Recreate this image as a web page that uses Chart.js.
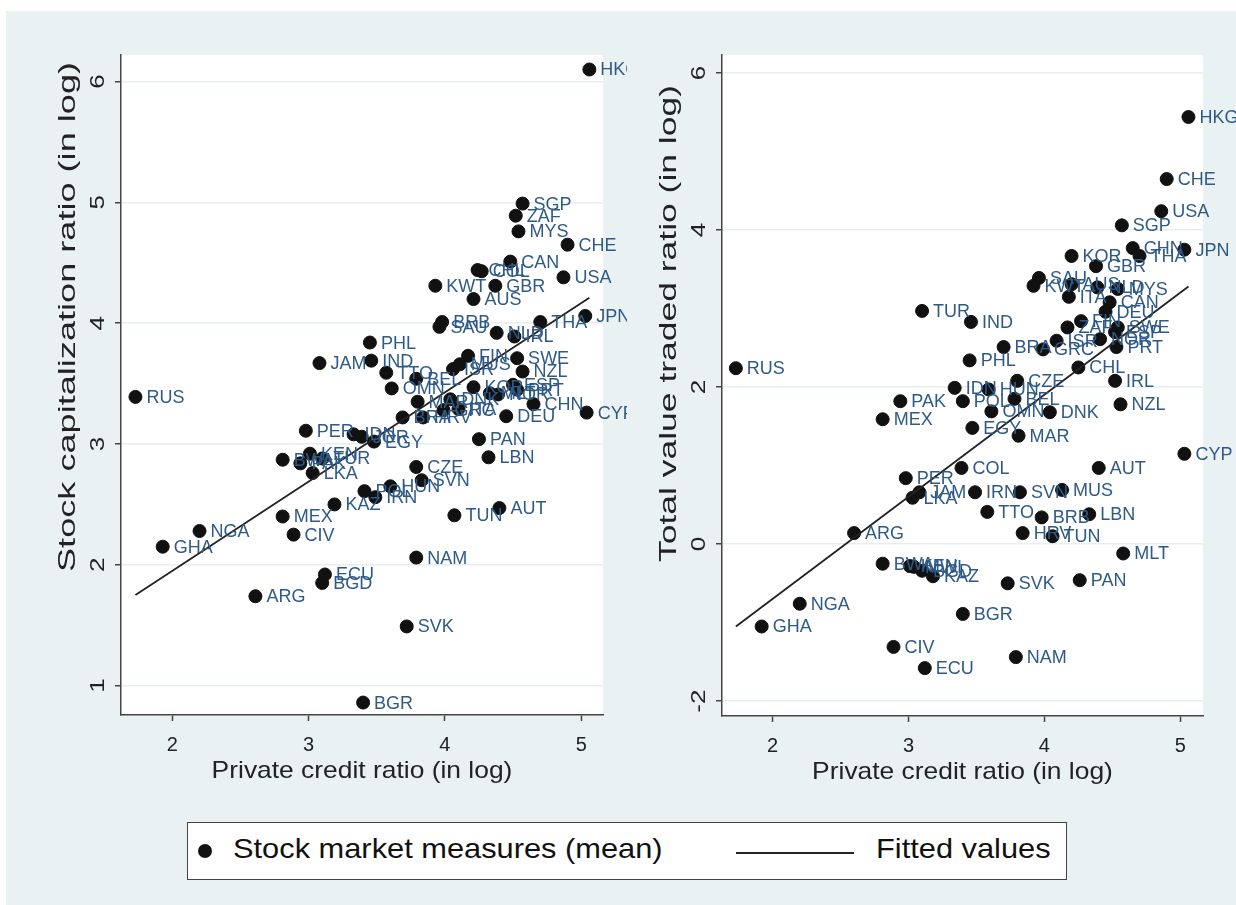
<!DOCTYPE html>
<html>
<head>
<meta charset="utf-8">
<script src="https://cdn.jsdelivr.net/npm/chart.js@4.4.0/dist/chart.umd.min.js"></script>
<style>
  body { margin: 0; width: 1236px; height: 905px; background: #fff; position: relative; overflow: hidden; font-family: "Liberation Sans", Arial, sans-serif; }
  #bg { position: absolute; left: 6px; top: 11px; right: 0; bottom: 0; background: #eaf1f3; }
  #left { position: absolute; left: 0; top: 0; }
  #right { position: absolute; left: 627px; top: 0; }
  #legend { position: absolute; left: 187px; top: 822px; width: 878px; height: 56px; border: 1px solid #444; background: #fff; }
  #legend .dot { position: absolute; left: 10px; top: 21px; width: 14px; height: 14px; border-radius: 50%; background: #111; }
  #legend .line { position: absolute; left: 548px; top: 29px; width: 118px; height: 2px; background: #222; }
  #legend span { position: absolute; top: 10px; font-size: 28px; color: #111; white-space: nowrap; transform: scaleX(1.1); transform-origin: left center; }
</style>
</head>
<body>
<div id="bg"></div>
<canvas id="left" width="627" height="800"></canvas>
<canvas id="right" width="609" height="800"></canvas>
<div id="legend">
  <div class="dot"></div><span style="left:45px">Stock market measures (mean)</span>
  <div class="line"></div><span style="left:688px">Fitted values</span>
</div>
<script>
// left panel: stock capitalization vs private credit (logs)
const leftCodes = ["HKG","SGP","ZAF","MYS","CHE","CAN","CHL","COL","GBR","USA","KWT","AUS","BRB","SAU","NLD","IRL","THA","JPN",
  "PHL","JAM","IND","RUS","FIN","MUS","ISR","TTO","BEL","SWE","NZL","OMN","KOR","MLT","NOR","ESP","PRT","CHN","DEU","CYP",
  "MAR","DNK","GRC","ITA","BRA","HRV","PER","IDN","JOR","EGY","PAN","LBN","KEN","BWA","PAK","TUR","LKA","CZE","SVN","HUN",
  "POL","IRN","KAZ","MEX","CIV","NGA","GHA","TUN","AUT","NAM","ECU","BGD","ARG","SVK","BGR"];
const leftX = [5.06,4.57,4.52,4.54,4.90,4.48,4.24,4.27,4.37,4.87,3.93,4.21,3.98,3.96,4.38,4.51,4.70,5.03,
  3.45,3.08,3.46,1.73,4.17,4.11,4.06,3.57,3.79,4.53,4.57,3.61,4.21,4.33,4.39,4.50,4.53,4.65,4.45,5.04,
  3.80,4.04,3.99,4.10,3.69,3.84,2.98,3.33,3.39,3.48,4.25,4.32,3.01,2.81,2.94,3.10,3.03,3.79,3.83,3.60,
  3.41,3.49,3.19,2.81,2.89,2.20,1.93,4.07,4.40,3.79,3.12,3.10,2.61,3.72,3.40];
const leftY = [6.10,4.99,4.89,4.76,4.65,4.51,4.44,4.43,4.31,4.38,4.31,4.20,4.01,3.97,3.92,3.89,4.01,4.06,
  3.84,3.67,3.69,3.39,3.73,3.66,3.62,3.59,3.54,3.71,3.60,3.46,3.47,3.42,3.41,3.49,3.45,3.33,3.23,3.26,
  3.35,3.37,3.28,3.29,3.22,3.22,3.11,3.08,3.06,3.02,3.04,2.89,2.92,2.87,2.84,2.88,2.76,2.81,2.70,2.65,
  2.61,2.56,2.50,2.40,2.25,2.28,2.15,2.41,2.47,2.06,1.92,1.85,1.74,1.49,0.86];

// right panel: total value traded vs private credit (logs)
const rightCodes = ["HKG","CHE","USA","SGP","CHN","THA","JPN","KOR","GBR","SAU","KWT","AUS","NLD","MYS","ITA","CAN","DEU",
  "FIN","ZAF","SWE","ESP","NOR","ISR","PRT","GRC","BRA","TUR","IND","PHL","RUS","CHL","IRL","NZL","CZE","IDN","HUN","PAK",
  "POL","BEL","OMN","DNK","MEX","EGY","MAR","CYP","COL","AUT","PER","JAM","LKA","IRN","SVN","MUS","TTO","BRB","LBN","ARG",
  "HRV","TUN","MLT","BWA","KEN","MWI","BGD","KAZ","PAN","SVK","NGA","BGR","GHA","CIV","NAM","ECU"];
const rightX = [5.06,4.90,4.86,4.57,4.65,4.70,5.03,4.20,4.38,3.96,3.92,4.20,4.39,4.54,4.18,4.48,4.45,
  4.27,4.17,4.54,4.52,4.41,4.09,4.53,3.99,3.70,3.10,3.46,3.45,1.73,4.25,4.52,4.56,3.80,3.34,3.59,2.94,
  3.40,3.78,3.61,4.04,2.81,3.47,3.81,5.03,3.39,4.40,2.98,3.08,3.03,3.49,3.82,4.13,3.58,3.98,4.33,2.60,
  3.84,4.06,4.58,2.81,3.01,3.04,3.10,3.18,4.26,3.73,2.20,3.40,1.92,2.89,3.79,3.12];
const rightY = [5.44,4.65,4.24,4.06,3.77,3.67,3.75,3.67,3.54,3.39,3.29,3.31,3.27,3.25,3.15,3.08,2.96,
  2.84,2.76,2.76,2.70,2.61,2.59,2.51,2.48,2.51,2.97,2.83,2.34,2.24,2.25,2.08,1.78,2.08,1.99,1.97,1.82,
  1.82,1.85,1.69,1.68,1.59,1.48,1.38,1.15,0.97,0.97,0.84,0.66,0.59,0.66,0.66,0.69,0.41,0.34,0.38,0.14,
  0.14,0.10,-0.12,-0.25,-0.28,-0.29,-0.34,-0.41,-0.46,-0.50,-0.76,-0.89,-1.05,-1.31,-1.44,-1.58];

// fitted lines (end points of the linear fit)
const fitX = [1.73, 5.06];
const leftFitY = [1.75, 4.21];
const rightFitY = [-1.05, 3.28];

const xTicks = [2, 3, 4, 5];
const leftYTicks = [1, 2, 3, 4, 5, 6];
const rightYTicks = [-2, 0, 2, 4, 6];

const FONT = '"Liberation Sans", Arial, sans-serif';

const panelPlugin = {
  id: "panel",
  beforeDraw(chart) {
    const { ctx, chartArea: a } = chart;
    ctx.save();
    ctx.fillStyle = "#fff";
    ctx.fillRect(a.left, a.top, a.right - a.left, a.bottom - a.top);
    ctx.restore();
  },
  afterDatasetsDraw(chart) {
    const o = chart.options.plugins.panel;
    const { ctx, chartArea: a } = chart;
    const xs = chart.scales.x, ys = chart.scales.y;
    ctx.save();
    // marker labels
    ctx.font = "18px " + FONT;
    ctx.fillStyle = "#2e5a87";
    ctx.textAlign = "left";
    ctx.textBaseline = "middle";
    const meta = chart.getDatasetMeta(0);
    meta.data.forEach((pt, i) => {
      ctx.fillText(o.codes[i], pt.x + 11, pt.y + 1);
    });
    // x tick labels
    ctx.fillStyle = "#222";
    ctx.font = "20px " + FONT;
    ctx.textAlign = "center";
    xTicks.forEach((v) => ctx.fillText(String(v), xs.getPixelForValue(v), a.bottom + 30));
    // x title
    ctx.save();
    ctx.translate((a.left + a.right) / 2, a.bottom + 56);
    ctx.scale(1.1, 1);
    ctx.font = "24px " + FONT;
    ctx.fillText("Private credit ratio (in log)", 0, 0);
    ctx.restore();
    // y tick labels (rotated, as in Stata)
    ctx.font = "20px " + FONT;
    o.yTicks.forEach((v) => {
      ctx.save();
      ctx.translate(a.left - 23, ys.getPixelForValue(v));
      ctx.rotate(-Math.PI / 2);
      ctx.scale(1.3, 1);
      ctx.fillText(String(v), 0, 0);
      ctx.restore();
    });
    // y title, stretched along its length to the span it has in the picture
    ctx.font = "24px " + FONT;
    const w = ctx.measureText(o.yTitle).width;
    ctx.save();
    ctx.translate(a.left - 53, (o.titleTop + o.titleBottom) / 2);
    ctx.rotate(-Math.PI / 2);
    ctx.scale((o.titleBottom - o.titleTop) / w, 1);
    ctx.textAlign = "center";
    ctx.fillText(o.yTitle, 0, 0);
    ctx.restore();
    ctx.restore();
  },
};

function makePanel(id, codes, xv, yv, fitY, yTicks, yMin, yMax, xMin, xMax, yTitle, titleTop, titleBottom, padRight, xHeight, yWidth) {
  const points = codes.map((c, i) => ({ x: xv[i], y: yv[i] }));
  const fit = fitX.map((x, i) => ({ x, y: fitY[i] }));
  return new Chart(document.getElementById(id), {
    type: "scatter",
    data: {
      datasets: [
        { data: points, backgroundColor: "#111", borderColor: "#111", pointRadius: 6.5, pointHoverRadius: 6.5, order: 1 },
        { type: "line", data: fit, borderColor: "#222", borderWidth: 1.8, pointRadius: 0, fill: false, order: 0 },
      ],
    },
    options: {
      responsive: false,
      animation: false,
      events: [],
      layout: { padding: { left: 0, top: 55, right: padRight, bottom: 0 } },
      plugins: { legend: { display: false }, tooltip: { enabled: false }, panel: { codes, yTicks, yTitle, titleTop, titleBottom } },
      scales: {
        x: {
          type: "linear", min: xMin, max: xMax,
          afterBuildTicks: (s) => { s.ticks = xTicks.map((v) => ({ value: v })); },
          afterFit: (s) => { s.height = xHeight; },
          ticks: { display: false },
          grid: { display: true, drawOnChartArea: false, drawTicks: true, tickLength: 6, tickColor: "#444", tickWidth: 1.5 },
          border: { display: true, color: "#444", width: 1.5 },
        },
        y: {
          type: "linear", min: yMin, max: yMax,
          afterBuildTicks: (s) => { s.ticks = yTicks.map((v) => ({ value: v })); },
          afterFit: (s) => { s.width = yWidth; },
          ticks: { display: false },
          grid: { display: true, color: "#e6eef1", lineWidth: 1.5, drawTicks: true, tickLength: 6, tickColor: "#444", tickWidth: 1.5 },
          border: { display: true, color: "#444", width: 1.5 },
        },
      },
    },
    plugins: [panelPlugin],
  });
}

makePanel("left", leftCodes, leftX, leftY, leftFitY, leftYTicks, 0.757, 6.22, 1.624, 5.16,
  "Stock capitalization ratio (in log)", 62, 572, 24, 85, 121);
makePanel("right", rightCodes, rightX, rightY, rightFitY, rightYTicks, -2.19, 6.23, 1.628, 5.167,
  "Total value traded ratio (in log)", 85, 562, 33, 84, 95);
</script>
</body>
</html>
